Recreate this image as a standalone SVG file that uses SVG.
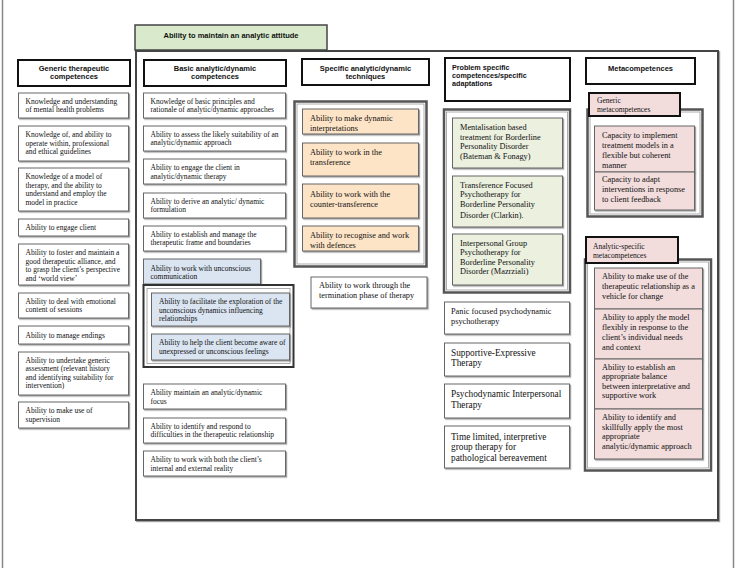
<svg xmlns="http://www.w3.org/2000/svg" width="736" height="568" viewBox="0 0 736 568">
<defs>
<filter id="sh" x="-5%" y="-5%" width="115%" height="125%">
<feDropShadow dx="1.2" dy="1.2" stdDeviation="0.4" flood-color="#888" flood-opacity="0.8"/>
</filter>
</defs>
<style>
.hd{fill:#fff;stroke:#111;stroke-width:2}
.ht{font-family:"Liberation Sans",Arial,sans-serif;font-weight:bold;font-size:7.5px;fill:#111}
.it{fill:#fff;stroke:#666;stroke-width:1;filter:url(#sh)}
.t{font-family:"Liberation Serif","Times New Roman",serif;font-size:7.5px;fill:#111}
.t8{font-family:"Liberation Serif","Times New Roman",serif;font-size:8.3px;fill:#111}
.t9{font-family:"Liberation Serif","Times New Roman",serif;font-size:9.3px;fill:#111}
.fr{fill:none;stroke:#555;stroke-width:2.5}
.fi{fill:none;stroke:#999;stroke-width:0.8}
.blue{fill:#dbe5f1}
.org{fill:#fde4c7}
.grn{fill:#ebf0df}
.pnk{fill:#f2dcdc}
</style>
<g id="page">
<line x1="2.5" y1="0" x2="2.5" y2="568" stroke="#888" stroke-width="1.5"/>
<line x1="733.5" y1="0" x2="733.5" y2="568" stroke="#888" stroke-width="1.5"/>
</g>
<g id="main">
<rect x="136" y="51" width="582" height="469" fill="#fff" stroke="#444" stroke-width="2" filter="url(#sh)"/>
</g>
<g id="title">
<rect x="135" y="25" width="192" height="25" fill="#d8eacb" stroke="#444" stroke-width="1.5"/>
<text class="ht" x="231" y="37.5" text-anchor="middle">Ability to maintain an analytic attitude</text>
</g>
<g id="connectors"/>
<!-- Column 1 -->
<g id="h1"><rect class="hd" x="18" y="60" width="112" height="26"/><text class="ht" text-anchor="middle"><tspan x="74" y="70.5">Generic therapeutic</tspan><tspan x="74" y="78.5">competences</tspan></text></g>
<g id="c1a"><rect class="it" x="18.5" y="93" width="110" height="25"/><text class="t"><tspan x="25.5" y="103.5">Knowledge and understanding</tspan><tspan x="25.5" y="112">of mental health problems</tspan></text></g>
<g id="c1b"><rect class="it" x="18.5" y="126" width="110" height="35"/><text class="t"><tspan x="25.5" y="137">Knowledge of, and ability to</tspan><tspan x="25.5" y="145.5">operate within, professional</tspan><tspan x="25.5" y="154">and ethical guidelines</tspan></text></g>
<g id="c1c"><rect class="it" x="18.5" y="168" width="110" height="43"/><text class="t"><tspan x="25.5" y="179">Knowledge of a model of</tspan><tspan x="25.5" y="187.5">therapy, and the ability to</tspan><tspan x="25.5" y="196">understand and employ the</tspan><tspan x="25.5" y="204.5">model  in practice</tspan></text></g>
<g id="c1d"><rect class="it" x="18.5" y="219" width="110" height="17"/><text class="t"><tspan x="25.5" y="230">Ability to engage client</tspan></text></g>
<g id="c1e"><rect class="it" x="18.5" y="244" width="110" height="41"/><text class="t"><tspan x="25.5" y="255">Ability to foster and maintain a</tspan><tspan x="25.5" y="263.5">good therapeutic alliance, and</tspan><tspan x="25.5" y="272">to grasp the client’s perspective</tspan><tspan x="25.5" y="280.5">and ‘world view’</tspan></text></g>
<g id="c1f"><rect class="it" x="18.5" y="293" width="110" height="25"/><text class="t"><tspan x="25.5" y="303.5">Ability to deal with emotional</tspan><tspan x="25.5" y="312">content of sessions</tspan></text></g>
<g id="c1g"><rect class="it" x="18.5" y="326" width="110" height="18"/><text class="t"><tspan x="25.5" y="337.5">Ability to manage endings</tspan></text></g>
<g id="c1h"><rect class="it" x="18.5" y="352" width="110" height="43"/><text class="t"><tspan x="25.5" y="362.5">Ability to undertake generic</tspan><tspan x="25.5" y="371">assessment  (relevant history</tspan><tspan x="25.5" y="379.5">and  identifying suitability for</tspan><tspan x="25.5" y="388">intervention)</tspan></text></g>
<g id="c1i"><rect class="it" x="18.5" y="402" width="110" height="26"/><text class="t"><tspan x="25.5" y="413">Ability to make use of</tspan><tspan x="25.5" y="421.5">supervision</tspan></text></g>
<!-- Column 2 -->
<g id="h2"><rect class="hd" x="144" y="60" width="142" height="26"/><text class="ht" text-anchor="middle"><tspan x="215" y="70.5">Basic analytic/dynamic</tspan><tspan x="215" y="78.5">competences</tspan></text></g>
<g id="c2a"><rect class="it" x="143.5" y="93" width="142" height="25"/><text class="t"><tspan x="150.5" y="103.5">Knowledge of basic principles and</tspan><tspan x="150.5" y="112">rationale of analytic/dynamic approaches</tspan></text></g>
<g id="c2b"><rect class="it" x="143.5" y="126" width="142" height="25"/><text class="t"><tspan x="150.5" y="136.5">Ability to assess the likely suitability of an</tspan><tspan x="150.5" y="145">analytic/dynamic approach</tspan></text></g>
<g id="c2c"><rect class="it" x="143.5" y="159" width="142" height="25"/><text class="t"><tspan x="150.5" y="170">Ability to engage the client in</tspan><tspan x="150.5" y="178.5">analytic/dynamic therapy</tspan></text></g>
<g id="c2d"><rect class="it" x="143.5" y="193" width="142" height="25"/><text class="t"><tspan x="150.5" y="203.5">Ability to derive an analytic/ dynamic</tspan><tspan x="150.5" y="212">formulation</tspan></text></g>
<g id="c2e"><rect class="it" x="143.5" y="226" width="142" height="25"/><text class="t"><tspan x="150.5" y="236.5">Ability to establish and manage the</tspan><tspan x="150.5" y="245">therapeutic frame and boundaries</tspan></text></g>
<g id="c2f"><rect class="it blue" x="143.5" y="259" width="117" height="25"/><text class="t"><tspan x="150.5" y="270.5">Ability to work with unconscious</tspan><tspan x="150.5" y="279">communication</tspan></text></g>
<g id="c2frame"><rect x="143.5" y="285" width="150" height="82" fill="#fff" stroke="#333" stroke-width="2"/><rect class="fi" x="147" y="288.5" width="143" height="75" stroke="#333"/></g>
<g id="c2g"><rect class="it blue" x="151.5" y="293" width="138" height="33"/><text class="t"><tspan x="159" y="304">Ability to facilitate the exploration of the</tspan><tspan x="159" y="312.5">unconscious dynamics influencing</tspan><tspan x="159" y="321">relationships</tspan></text></g>
<g id="c2h"><rect class="it blue" x="151.5" y="334" width="138" height="26"/><text class="t"><tspan x="159" y="345">Ability to help the client become aware of</tspan><tspan x="159" y="354">unexpressed or unconscious feelings</tspan></text></g>
<g id="c2i"><rect class="it" x="143.5" y="384" width="142" height="25"/><text class="t"><tspan x="150.5" y="395">Ability maintain an analytic/dynamic</tspan><tspan x="150.5" y="403.5">focus</tspan></text></g>
<g id="c2j"><rect class="it" x="143.5" y="418" width="142" height="25"/><text class="t"><tspan x="150.5" y="428.5">Ability to identify and respond to</tspan><tspan x="150.5" y="437">difficulties in the therapeutic relationship</tspan></text></g>
<g id="c2k"><rect class="it" x="143.5" y="451" width="142" height="25"/><text class="t"><tspan x="150.5" y="462">Ability to work with both the client’s</tspan><tspan x="150.5" y="470.5">internal and external reality</tspan></text></g>
<!-- Column 3 -->
<g id="h3"><rect class="hd" x="302" y="59" width="127" height="26"/><text class="ht" text-anchor="middle"><tspan x="365.5" y="70.5">Specific analytic/dynamic</tspan><tspan x="365.5" y="78.5">techniques</tspan></text></g>
<g id="c3frame"><rect class="fr" x="294.5" y="101.5" width="132" height="165" fill="#fff"/><rect class="fi" x="297" y="104" width="127" height="160"/></g>
<g id="c3a"><rect class="it org" x="302.5" y="109" width="116" height="25"/><text class="t8"><tspan x="310" y="121">Ability to make dynamic</tspan><tspan x="310" y="131">interpretations</tspan></text></g>
<g id="c3b"><rect class="it org" x="302.5" y="143" width="116" height="33"/><text class="t8"><tspan x="310" y="155">Ability to work in the</tspan><tspan x="310" y="165">transference</tspan></text></g>
<g id="c3c"><rect class="it org" x="302.5" y="184" width="116" height="34"/><text class="t8"><tspan x="310" y="196.5">Ability to work with the</tspan><tspan x="310" y="206.5">counter-transference</tspan></text></g>
<g id="c3d"><rect class="it org" x="302.5" y="226" width="116" height="25"/><text class="t8"><tspan x="310" y="238">Ability to recognise and work</tspan><tspan x="310" y="248">with defences</tspan></text></g>
<g id="c3e"><rect class="it" x="311" y="277" width="116" height="31"/><text class="t8"><tspan x="319" y="288">Ability to work through the</tspan><tspan x="319" y="298">termination phase of therapy</tspan></text></g>
<!-- Column 4 -->
<g id="h4"><rect class="hd" x="445" y="58" width="125" height="43"/><text class="ht" style="font-size:7.2px"><tspan x="452" y="70">Problem specific</tspan><tspan x="452" y="78">competences/specific</tspan><tspan x="452" y="86">adaptations</tspan></text></g>
<g id="c4frame"><rect class="fr" x="444" y="109.5" width="126" height="183" fill="#fff"/><rect class="fi" x="446.5" y="112" width="121" height="178"/></g>
<g id="c4a"><rect class="it grn" x="452.5" y="118" width="110" height="50"/><text class="t8"><tspan x="460" y="130">Mentalisation based</tspan><tspan x="460" y="139.7">treatment for Borderline</tspan><tspan x="460" y="149.4">Personality Disorder</tspan><tspan x="460" y="159.1">(Bateman &amp; Fonagy)</tspan></text></g>
<g id="c4b"><rect class="it grn" x="452.5" y="176" width="110" height="51"/><text class="t8"><tspan x="460" y="188">Transference Focused</tspan><tspan x="460" y="197.3">Psychotherapy for</tspan><tspan x="460" y="206.6">Borderline Personality</tspan><tspan x="460" y="218">Disorder (Clarkin).</tspan></text></g>
<g id="c4c"><rect class="it grn" x="452.5" y="234" width="110" height="51"/><text class="t8"><tspan x="460" y="246">Interpersonal Group</tspan><tspan x="460" y="255.4">Psychotherapy for</tspan><tspan x="460" y="264.8">Borderline Personality</tspan><tspan x="460" y="274.2">Disorder (Mazrziali)</tspan></text></g>
<g id="c4d"><rect class="it" x="444.5" y="302" width="125" height="32"/><text class="t8"><tspan x="451" y="314">Panic focused  psychodynamic</tspan><tspan x="451" y="324">psychotherapy</tspan></text></g>
<g id="c4e"><rect class="it" x="444.5" y="343" width="125" height="33"/><text class="t9"><tspan x="451" y="355.5">Supportive-Expressive</tspan><tspan x="451" y="366">Therapy</tspan></text></g>
<g id="c4f"><rect class="it" x="444.5" y="384" width="125" height="34"/><text class="t9"><tspan x="451" y="397">Psychodynamic Interpersonal</tspan><tspan x="451" y="407.5">Therapy</tspan></text></g>
<g id="c4g"><rect class="it" x="444.5" y="426" width="125" height="42"/><text class="t9"><tspan x="451" y="439.5">Time limited, interpretive</tspan><tspan x="451" y="450">group therapy for</tspan><tspan x="451" y="460.5">pathological bereavement</tspan></text></g>
<!-- Column 5 -->
<g id="h5"><rect class="hd" x="586" y="58" width="109" height="26"/><text class="ht" text-anchor="middle"><tspan x="640.5" y="71">Metacompetences</tspan></text></g>
<g id="c5frame1"><rect class="fr" x="587.5" y="109.5" width="115" height="107" fill="#fff"/><rect class="fi" x="590" y="112" width="110" height="102"/></g>
<g id="c5tab1"><rect class="pnk" x="589" y="93" width="91" height="23" stroke="#111" stroke-width="2"/><text class="t"><tspan x="597" y="103">Generic</tspan><tspan x="597" y="112">metacompetences</tspan></text></g>
<g id="c5a"><rect class="it pnk" x="594.5" y="126" width="100" height="46"/><text class="t8"><tspan x="602" y="137.5">Capacity to implement</tspan><tspan x="602" y="147.5">treatment models in a</tspan><tspan x="602" y="157.5">flexible but coherent</tspan><tspan x="602" y="167.5">manner</tspan></text></g>
<g id="c5b"><rect class="it pnk" x="594.5" y="172" width="100" height="38"/><text class="t8"><tspan x="602" y="182">Capacity to adapt</tspan><tspan x="602" y="192">interventions  in response</tspan><tspan x="602" y="202">to client feedback</tspan></text></g>
<g id="c5frame2"><rect class="fr" x="585" y="259.5" width="126" height="211" fill="#fff"/><rect class="fi" x="587.5" y="262" width="121" height="206"/></g>
<g id="c5tab2"><rect class="pnk" x="586" y="237" width="92" height="26" stroke="#111" stroke-width="2"/><text class="t"><tspan x="593" y="248.5">Analytic-specific</tspan><tspan x="593" y="258">metacompetences</tspan></text></g>
<g id="c5c"><rect class="it pnk" x="594.5" y="268" width="108" height="41"/><text class="t8"><tspan x="602" y="279">Ability to make use of the</tspan><tspan x="602" y="289">therapeutic relationship as a</tspan><tspan x="602" y="298.5">vehicle for change</tspan></text></g>
<g id="c5d"><rect class="it pnk" x="594.5" y="309" width="108" height="50"/><text class="t8"><tspan x="602" y="319.5">Ability to apply the model</tspan><tspan x="602" y="329.5">flexibly in response to  the</tspan><tspan x="602" y="339.5">client’s individual needs</tspan><tspan x="602" y="349.5">and context</tspan></text></g>
<g id="c5e"><rect class="it pnk" x="594.5" y="359" width="108" height="50"/><text class="t8"><tspan x="602" y="369.5">Ability to establish an</tspan><tspan x="602" y="379">appropriate balance</tspan><tspan x="602" y="388.5">between interpretative and</tspan><tspan x="602" y="398">supportive work</tspan></text></g>
<g id="c5f"><rect class="it pnk" x="594.5" y="409" width="108" height="50"/><text class="t8"><tspan x="602" y="420">Ability to identify and</tspan><tspan x="602" y="429.5">skillfully apply the most</tspan><tspan x="602" y="439">appropriate</tspan><tspan x="602" y="448.5">analytic/dynamic approach</tspan></text></g>
</svg>
